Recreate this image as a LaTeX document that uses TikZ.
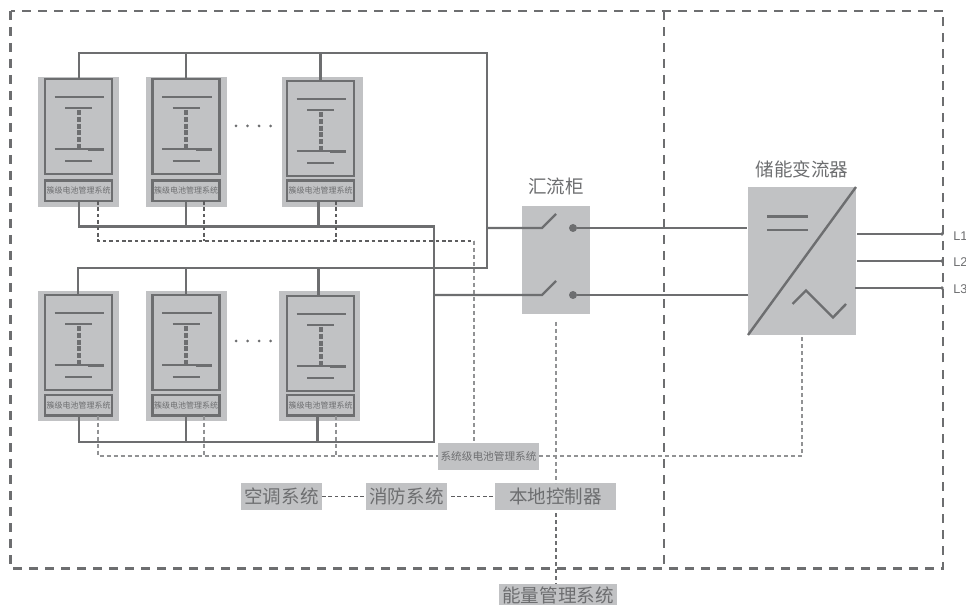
\documentclass[tikz,border=0pt]{standalone}
\usepackage{fontspec}
\setmainfont{Noto Sans CJK SC}
\newfontfamily\latinfont{Liberation Sans}
\usetikzlibrary{calc}
\definecolor{panel}{HTML}{C1C2C4}
\definecolor{ink}{HTML}{6D6E70}
\def\px{0.75pt}
\tikzset{
  x=0.75pt,y=-0.75pt,
  grayfill/.style={fill=panel,draw=none,inner sep=0pt,outer sep=0pt,text=ink},
  panelbox/.style={grayfill,anchor=north west},
  frame/.style={draw=ink,line width=2.2*\px,inner sep=0pt,outer sep=0pt,anchor=north west,fill=panel,text=ink,minimum width=67*\px},
  bus/.style={draw=ink,line width=2.4*\px},
  thin bus/.style={draw=ink,line width=2*\px},
  boundary/.style={draw=ink,line width=2.8*\px,dash pattern=on 9*\px off 7*\px},
  signal/.style={draw=ink!85!black,line width=1.3*\px,dash pattern=on 3.6*\px off 2.8*\px},
  signal grey/.style={draw=ink!75,line width=1.5*\px,dash pattern=on 4*\px off 3*\px},
  bigtext/.style={font=\fontsize{13.9pt}{14pt}\selectfont,text=ink},
  cabletext/.style={font=\fontsize{6pt}{6pt}\selectfont,text=ink},
  linelabel/.style={anchor=west,inner sep=0pt,text=ink,font=\latinfont\fontsize{9.5pt}{9.5pt}\selectfont},
}
\newcommand{\clusterbox}[6]{%
  \node[panelbox,minimum width=81*\px,minimum height=130*\px] (#1-g) at (#2,#3) {};
  \node[frame,minimum height=95*\px] (#1-b) at (#4,#5) {};
  \node[frame,minimum height=20.5*\px,cabletext] (#1-m) at (#4,#6) {簇级电池管理系统};
  \draw[thin bus] ({#4+9.5},{#5+18}) -- ({#4+59},{#5+18});
  \draw[bus] ({#4+43},{#5+18}) -- ({#4+59},{#5+18});
  \draw[thin bus] ({#4+20},{#5+29}) -- ({#4+47},{#5+29});
  \draw[draw=ink,line width=4*\px,dash pattern=on 5*\px off 1.8*\px] ({#4+33.8},{#5+31}) -- ({#4+33.8},{#5+70});
  \draw[thin bus] ({#4+9.5},{#5+70.5}) -- ({#4+59},{#5+70.5});
  \draw[bus] ({#4+43},{#5+70.5}) -- ({#4+59},{#5+70.5});
  \draw[thin bus] ({#4+20},{#5+82}) -- ({#4+47},{#5+82});
}
\begin{document}
\begin{tikzpicture}
\useasboundingbox (0,0) rectangle (966,605);
% clusters
\clusterbox{a}{38}{77}{45}{79}{180.5}
\clusterbox{b}{146}{77}{152.5}{79}{180.5}
\clusterbox{c}{282}{77}{287}{81}{180.5}
\clusterbox{d}{38}{291}{45}{295}{395}
\clusterbox{e}{146}{291}{152.5}{295}{395}
\clusterbox{f}{279}{291}{287}{296}{395}
% ellipses
\foreach \i in {0,1,2,3} {
  \fill[ink] ({236+\i*11.5},126) circle (1.5);
  \fill[ink] ({236+\i*11.5},341) circle (1.5);
}
% cabinet, converter and labelled boxes
\node[panelbox,minimum width=68*\px,minimum height=108*\px] (cab) at (522,206) {};
\node[bigtext] (cablabel) at (556,186) {汇流柜};
\node[panelbox,minimum width=108*\px,minimum height=148*\px] (pcs) at (748,187) {};
\node[bigtext] (pcslabel) at (802,169) {储能变流器};
\node[panelbox,minimum width=81*\px,minimum height=27*\px,bigtext] (ac) at (241,483) {空调系统};
\node[panelbox,minimum width=81*\px,minimum height=27*\px,bigtext] (fire) at (366,483) {消防系统};
\node[panelbox,minimum width=121*\px,minimum height=27*\px,bigtext] (ctrl) at (495,483) {本地控制器};
\node[panelbox,minimum width=118*\px,minimum height=21*\px,bigtext,text depth=0pt] (ems) at (499,584) {能量管理系统};
% boundary
\coordinate (tl) at (10.5,11);
\coordinate (br) at (943,568.5);
\coordinate (midt) at (664,11);
\coordinate (midb) at (664,568.5);
\draw[boundary] (tl) rectangle (br);
\draw[boundary] (midt) -- (midb);
% buses
\coordinate (bus1) at (79,53);
\coordinate (bus1r) at (487,53);
\coordinate (bus2) at (78,268);
\coordinate (bus2r) at (487,268);
\coordinate (bus3) at (79,226.5);
\coordinate (bus3r) at (434,226.5);
\coordinate (bus4) at (79,442);
\coordinate (bus4r) at (434,442);
\draw[bus] (a-b.north -| bus1) -- (bus1) -- (bus1r) -- (bus2r) -- (bus2) -- (d-b.north -| bus2);
\draw[bus] (b-b.north) -- (b-b.north |- bus1);
\draw[bus] (c-b.north) -- (c-b.north |- bus1);
\draw[bus] (e-b.north) -- (e-b.north |- bus2);
\draw[bus] ([xshift=-2*\px]f-b.north) -- ([xshift=-2*\px]f-b.north |- bus2);
\draw[bus] (a-m.south -| bus3) -- (bus3) -- (bus3r) -- (bus4r) -- (bus4) -- (d-m.south -| bus4);
\draw[bus] (b-m.south) -- (b-m.south |- bus3);
\draw[bus] ([xshift=-2*\px]c-m.south) -- ([xshift=-2*\px]c-m.south |- bus3);
\draw[bus] (e-m.south) -- (e-m.south |- bus4);
\draw[bus] ([xshift=-3*\px]f-m.south) -- ([xshift=-3*\px]f-m.south |- bus4);
% switches
\coordinate (sw1) at (542,228);
\coordinate (sw2) at (542,295);
\coordinate (tap1) at (487,228);
\coordinate (tap2) at (434,295);
\node[circle,fill=ink,inner sep=0pt,minimum size=8*\px] (dot1) at (573,228) {};
\node[circle,fill=ink,inner sep=0pt,minimum size=8*\px] (dot2) at (573,295) {};
\coordinate (pcs1) at (pcs.west |- dot1);
\coordinate (pcs2) at (pcs.west |- dot2);
\draw[bus] (tap1) -- (sw1) -- ++(14,-14);
\draw[bus] (tap2) -- (sw2) -- ++(14,-14);
\draw[bus] (dot1) -- ([xshift=-1*\px]pcs1);
\draw[bus] (dot2) -- (pcs2);
% converter symbol
\draw[bus] (pcs.south west) -- (pcs.north east);
\draw[bus] (767,216.5) -- (808,216.5);
\draw[bus] (767,230) -- (808,230);
\draw[bus] (792.5,304) -- (806,290.5) -- (833,317.5) -- (846,304);
% outputs
\coordinate (o1) at (942,234);
\coordinate (o2) at (942,261);
\coordinate (o3) at (942,288);
\draw[bus] (857,234) -- (o1);
\draw[bus] (857,261) -- (o2);
\draw[bus] (855,288) -- (o3);
\foreach \c in {o1,o2,o3} \fill[ink] (\c) circle (1.8);
\node[linelabel] (l1) at (953,236) {L1};
\node[linelabel] (l2) at (953,262.5) {L2};
\node[linelabel] (l3) at (953,289.5) {L3};
% system BMS
\node[panelbox,minimum width=101*\px,minimum height=27*\px,font=\fontsize{8pt}{8pt}\selectfont] (sys) at (438,443) {系统级电池管理系统};
% signal lines, upper row
\coordinate (s1) at (98,241);
\coordinate (s2) at (204,241);
\coordinate (s3) at (336,241);
\coordinate (s4) at (474,241);
\draw[signal] (a-m.south -| s1) -- (s1) -- (s4);
\draw[signal] (b-m.south -| s2) -- (s2);
\draw[signal] (c-m.south -| s3) -- (s3);
\draw[signal grey] (s4) -- (s4 |- sys.north);
% signal lines, lower row
\coordinate (t1) at (98,456);
\coordinate (t2) at (204,456);
\coordinate (t3) at (336,456);
\coordinate (t4) at (802,456);
\draw[signal grey] (d-m.south -| t1) -- (t1) -- (t1 -| sys.west);
\draw[signal grey] (e-m.south -| t2) -- (t2);
\draw[signal grey] (f-m.south -| t3) -- (t3);
\draw[signal grey] (t1 -| sys.east) -- (t4) -- (t4 |- pcs.south);
% local controller links
\draw[signal] (ac.east) -- (fire.west);
\draw[signal] ([xshift=4*\px]fire.east) -- (ctrl.west);
\coordinate (v) at (556,322);
\draw[signal grey] (v) -- (v |- ctrl.north);
\draw[signal grey,draw=ink] (v |- ctrl.south) ++(0,3) -- (v |- ems.north);
\end{tikzpicture}
\end{document}
